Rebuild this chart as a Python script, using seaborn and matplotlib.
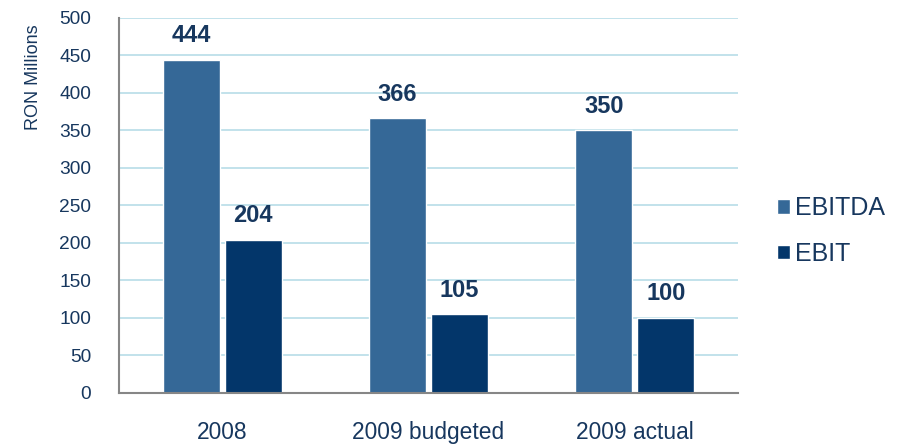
import matplotlib
matplotlib.use("Agg")
import matplotlib.pyplot as plt
import seaborn as sns
import pandas as pd
import numpy as np

# dados
periodos = ["2008", "2009 budgeted", "2009 actual"]
series = ["EBITDA", "EBIT"]
ebitda = [444, 366, 350]
ebit = [204, 105, 100]

cores = {"EBITDA": "#356897", "EBIT": "#03366A"}
azul_texto = "#17375E"

df = pd.DataFrame({
    "periodo": periodos * 2,
    "serie": ["EBITDA"] * 3 + ["EBIT"] * 3,
    "valor": ebitda + ebit,
})

sns.set_style("white")
plt.rcParams["font.family"] = ["Liberation Sans", "DejaVu Sans"]

fig = plt.figure(figsize=(9.07, 4.44), dpi=100)
ax = fig.add_axes([0.1312, 0.1149, 0.6825, 0.8446])

sns.barplot(data=df, x="periodo", y="valor", hue="serie", hue_order=series,
            palette=cores, width=0.6, gap=0.08, saturation=1, ax=ax)

# rótulos de valor acima das barras
for cont in ax.containers:
    ax.bar_label(cont, labels=[f"{v:.0f}" for v in cont.datavalues],
                 padding=9, fontsize=17, fontweight="bold", color=azul_texto)

ax.set_ylim(0, 500)
ax.set_xlim(-0.5, 2.5)
ax.set_yticks(np.arange(0, 501, 50))
ax.yaxis.grid(True, color="#B7DDE8", linewidth=1.2)
ax.set_axisbelow(True)

# ticks do eixo x nas divisões entre categorias
ax.set_xticks([-0.5, 0.5, 1.5, 2.5], minor=True)
ax.tick_params(axis="x", which="major", length=0, pad=20, labelsize=16.4, labelcolor=azul_texto)
ax.tick_params(axis="x", which="minor", length=5, color="#868686", width=1.2, direction="out")
ax.tick_params(axis="y", length=5, color="#868686", width=1.2, direction="out",
               labelsize=13.8, labelcolor=azul_texto, pad=15)

for lado in ["top", "right"]:
    ax.spines[lado].set_visible(False)
for lado in ["left", "bottom"]:
    ax.spines[lado].set_color("#868686")
    ax.spines[lado].set_linewidth(1.5)

ax.set_xlabel("")
ax.set_ylabel("RON Millions", fontsize=13, color=azul_texto, loc="top")
ax.yaxis.set_label_coords(-0.125, 0.982)

ax.legend(loc="center left", bbox_to_anchor=(1.027, 0.432), frameon=False,
          fontsize=18, labelcolor=azul_texto, handlelength=0.5, handleheight=0.5,
          handletextpad=0.2, labelspacing=0.85)

fig.savefig("out.png", dpi=100)
